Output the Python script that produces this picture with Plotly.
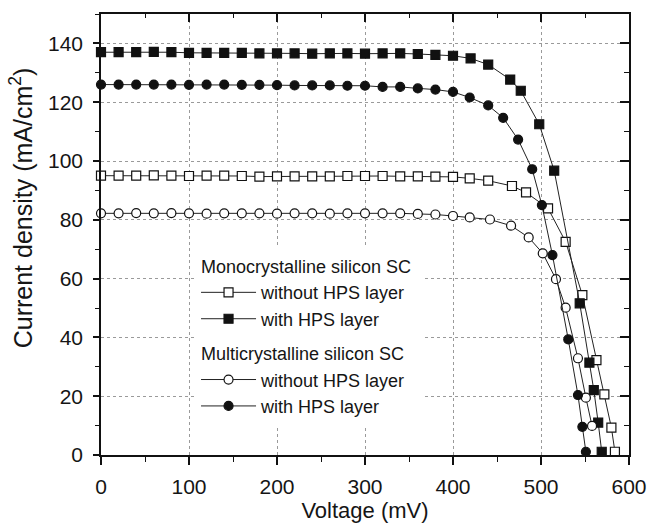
import plotly.graph_objects as go

# ---------------- data ----------------
base_v = [0, 20, 40, 60, 80, 100, 120, 140, 160, 180, 200, 220, 240, 260, 280, 300, 320, 340, 360, 380, 400]

mono_wo_v = base_v + [419, 440, 467, 483, 508, 528, 547, 563, 572, 580, 584]
mono_wo_j = [95.0, 95.0, 95.0, 95.1, 95.0, 94.9, 95.0, 95.0, 94.9, 94.7, 94.8, 94.8, 94.8, 94.8, 94.9, 94.9,
             94.9, 94.8, 94.8, 94.7, 94.6, 94.1, 93.3, 91.5, 89.3, 83.9, 72.5, 54.4, 32.3, 20.6, 9.3, 1.1]

mono_w_v = base_v + [420, 440, 465, 477, 498, 515, 544, 555, 560, 565, 569]
mono_w_j = [137.0, 137.0, 137.0, 137.1, 137.0, 136.8, 136.8, 136.8, 136.8, 136.6, 136.6, 136.6, 136.5, 136.6,
            136.6, 136.5, 136.6, 136.6, 136.4, 136.1, 135.8, 134.9, 132.8, 127.7, 123.9, 112.5, 96.7,
            51.6, 31.4, 22.1, 11.0, 1.1]

multi_wo_v = base_v + [419, 442, 466, 486, 502, 517, 528, 542, 551, 558]
multi_wo_j = [82.2, 82.2, 82.3, 82.2, 82.3, 82.2, 82.1, 82.2, 82.2, 82.2, 82.1, 82.2, 82.2, 82.1, 82.2, 82.2,
              82.2, 82.2, 82.0, 81.8, 81.3, 80.8, 80.1, 78.0, 74.0, 68.6, 59.8, 50.1, 32.9, 19.5, 9.9]

multi_w_v = base_v + [419, 440, 457, 474, 490, 501, 513, 531, 542, 547, 551]
multi_w_j = [126.0, 126.0, 126.0, 126.0, 126.0, 125.9, 126.0, 126.0, 125.9, 125.9, 125.8, 125.7, 125.7, 125.7,
             125.6, 125.6, 125.2, 125.2, 124.7, 124.3, 123.5, 121.6, 118.9, 114.7, 107.3, 97.2, 85.0,
             68.0, 39.3, 20.4, 9.6, 1.1]

x_ticks = [0, 100, 200, 300, 400, 500, 600]
y_ticks = [0, 20, 40, 60, 80, 100, 120, 140]

group_mono = "Monocrystalline silicon SC"
group_multi = "Multicrystalline silicon SC"
label_wo = "without HPS layer"
label_w = "with HPS layer"
x_title = "Voltage (mV)"
y_title = "Current density (mA/cm<sup>2</sup>)"

FONT = "Liberation Sans, Arial, Helvetica, sans-serif"
INK = "#151515"

fig = go.Figure()

def add(v, j, name, group, gtitle, symbol, fill):
    fig.add_trace(go.Scatter(
        x=v, y=j, name=name, mode="lines+markers",
        legendgroup=group,
        legendgrouptitle=dict(text=gtitle, font=dict(size=18, color=INK, family=FONT)) if gtitle else None,
        line=dict(color="#222", width=1),
        marker=dict(symbol=symbol, size=9, color=fill, line=dict(color="#111", width=1.2)),
        cliponaxis=False,
    ))

add(mono_wo_v, mono_wo_j, label_wo, "mono", group_mono, "square", "white")
add(mono_w_v, mono_w_j, label_w, "mono", None, "square", "#111")
add(multi_wo_v, multi_wo_j, label_wo, "multi", group_multi, "circle", "white")
add(multi_w_v, multi_w_j, label_w, "multi", None, "circle", "#111")

# empty trace so that mirrored top/right axes (with inward ticks) are drawn
fig.add_trace(go.Scatter(x=[], y=[], xaxis="x2", yaxis="y2", showlegend=False, hoverinfo="skip"))

axis_common = dict(showline=True, linecolor="#111", linewidth=1.5, zeroline=False)

fig.update_layout(
    width=647, height=523,
    margin=dict(l=101, r=18, t=14, b=68, autoexpand=False),
    paper_bgcolor="white", plot_bgcolor="white",
    font=dict(family=FONT, color=INK),
    showlegend=True,
    xaxis=dict(
        range=[0, 600], tickvals=x_ticks, ticks="outside", ticklen=8, tickwidth=1.5, tickcolor="#111",
        minor=dict(dtick=50, ticks="outside", ticklen=5, tickwidth=1.2, tickcolor="#111", showgrid=False),
        showgrid=True, gridcolor="#9a9a9a", griddash="dot", gridwidth=1.2,
        tickfont=dict(size=21, color=INK), ticklabelstandoff=4,
        title=dict(text=x_title, font=dict(size=22, color=INK), standoff=0),
        **axis_common,
    ),
    yaxis=dict(
        range=[0, 150], tickvals=y_ticks, ticks="outside", ticklen=6, tickwidth=1.5, tickcolor="#111",
        minor=dict(dtick=10, ticks="outside", ticklen=4, tickwidth=1.2, tickcolor="#111", showgrid=False),
        showgrid=True, gridcolor="#9a9a9a", griddash="dot", gridwidth=1.2,
        tickfont=dict(size=21, color=INK), ticklabelstandoff=6,
        **axis_common,
    ),
    xaxis2=dict(
        overlaying="x", side="top", anchor="y2", range=[0, 600], tickvals=x_ticks,
        ticks="inside", ticklen=8, tickwidth=1.5, tickcolor="#111",
        minor=dict(dtick=50, ticks="inside", ticklen=4, tickwidth=1.2, tickcolor="#111", showgrid=False),
        showticklabels=False, showgrid=False, **axis_common,
    ),
    yaxis2=dict(
        overlaying="y", side="right", anchor="x2", range=[0, 150], tickvals=y_ticks,
        ticks="inside", ticklen=9, tickwidth=1.5, tickcolor="#111",
        minor=dict(dtick=10, ticks="inside", ticklen=5, tickwidth=1.2, tickcolor="#111", showgrid=False),
        showticklabels=False, showgrid=False, **axis_common,
    ),
    legend=dict(
        x=0.18, y=0.47, xanchor="left", yanchor="top",
        bgcolor="white", borderwidth=0,
        font=dict(size=18, color=INK, family=FONT),
        traceorder="grouped", tracegroupgap=8, itemwidth=55,
    ),
    annotations=[dict(
        text=y_title, textangle=-90, xref="paper", yref="paper",
        x=-0.151, y=0.56, xanchor="center", yanchor="middle", showarrow=False,
        font=dict(size=25, color=INK, family=FONT),
    )],
)

fig.write_html("out.html")
